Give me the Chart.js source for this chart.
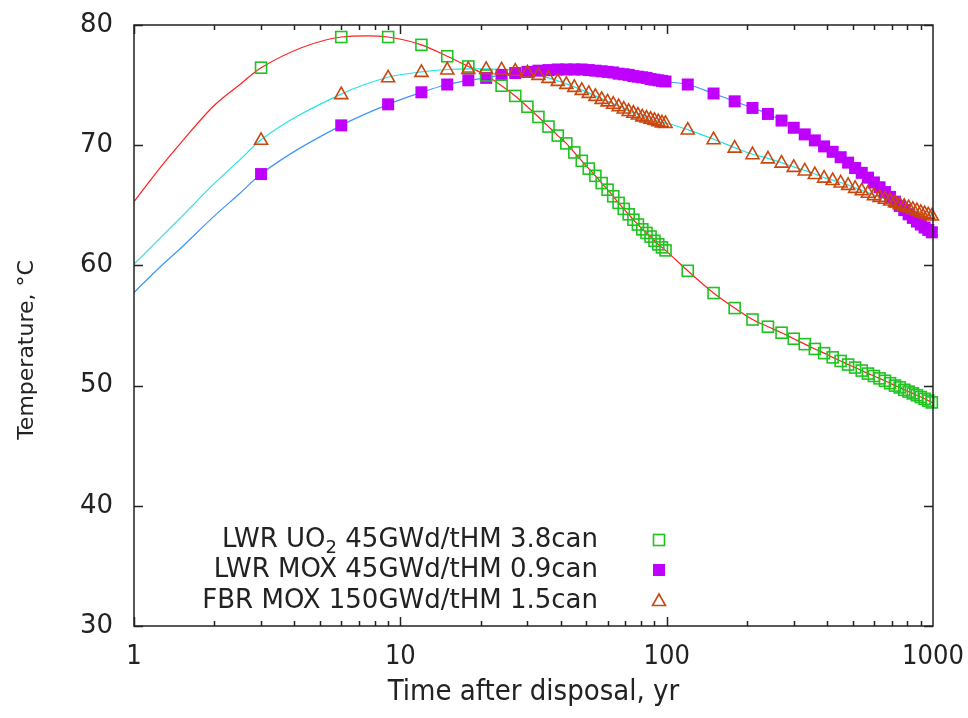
<!DOCTYPE html>
<html>
<head>
<meta charset="utf-8">
<title>Temperature after disposal</title>
<script src="https://cdn.jsdelivr.net/npm/chart.js@4/dist/chart.umd.min.js"></script>
<style>
  body { margin: 0; background: #fff; }
  #wrap { width: 968px; height: 718px; }
</style>
</head>
<body>
<div id="wrap"><canvas id="tempChart" width="968" height="718"></canvas></div>
<script>
// Zeitpunkte der Messpunkte (Jahre nach Einlagerung)
const yearsEarly = [3, 6, 9, 12, 15, 18, 21, 24, 27, 30, 33, 36, 39, 42, 45, 48, 51, 54, 57, 60,
  63, 66, 69, 72, 75, 78, 81, 84, 87, 90, 93, 96, 99];
const yearsLate = [120, 150, 180, 210, 240, 270, 300, 330, 360, 390, 420, 450, 480, 510, 540,
  570, 600, 630, 660, 690, 720, 750, 780, 810, 840, 870, 900, 930, 960, 990];

// LWR UO2 45GWd/tHM 3.8can
const uo2Early = [76.45, 79.0, 79.0, 78.35, 77.4, 76.55, 75.8, 74.95, 74.1, 73.2, 72.35, 71.55,
  70.8, 70.15, 69.4, 68.7, 68.05, 67.45, 66.85, 66.3, 65.75, 65.2, 64.7, 64.25, 63.8, 63.4, 63.0,
  62.7, 62.4, 62.05, 61.75, 61.5, 61.25];
const uo2Late = [59.55, 57.7, 56.45, 55.5, 54.9, 54.4, 53.9, 53.45, 53.05, 52.7, 52.35, 52.05,
  51.75, 51.5, 51.25, 51.0, 50.8, 50.6, 50.4, 50.2, 50.0, 49.85, 49.65, 49.5, 49.35, 49.2, 49.05,
  48.9, 48.75, 48.6];

// LWR MOX 45GWd/tHM 0.9can
const moxEarly = [67.6, 71.65, 73.4, 74.4, 75.05, 75.4, 75.6, 75.85, 76.0, 76.1, 76.2, 76.25,
  76.3, 76.3, 76.3, 76.3, 76.25, 76.2, 76.15, 76.1, 76.05, 75.95, 75.9, 75.85, 75.75, 75.7, 75.65,
  75.6, 75.5, 75.45, 75.4, 75.35, 75.3];
const moxLate = [75.05, 74.3, 73.65, 73.1, 72.6, 72.05, 71.45, 70.9, 70.4, 69.9, 69.45, 69.0,
  68.55, 68.1, 67.7, 67.3, 66.9, 66.5, 66.1, 65.7, 65.3, 64.95, 64.6, 64.25, 63.95, 63.65, 63.4,
  63.15, 62.95, 62.75];

// FBR MOX 150GWd/tHM 1.5can
const fbrEarly = [70.45, 74.25, 75.65, 76.1, 76.3, 76.35, 76.35, 76.3, 76.2, 76.05, 75.85, 75.6,
  75.35, 75.1, 74.85, 74.6, 74.35, 74.1, 73.85, 73.65, 73.45, 73.25, 73.05, 72.85, 72.7, 72.55,
  72.4, 72.3, 72.2, 72.1, 72.0, 71.9, 71.85];
const fbrLate = [71.3, 70.5, 69.8, 69.25, 68.9, 68.55, 68.2, 67.9, 67.6, 67.3, 67.1, 66.9, 66.7,
  66.45, 66.25, 66.05, 65.85, 65.7, 65.55, 65.4, 65.25, 65.1, 64.95, 64.85, 64.7, 64.6, 64.45,
  64.35, 64.25, 64.15];

// Kurvenverlauf vor dem ersten Messpunkt und am Rand (nur Linien)
const lineLeadYears = [1, 1.25, 1.5, 2, 2.5];
const uo2Lead = [65.3, 68.1, 70.2, 73.3, 75.05];
const moxLead = [57.75, 59.85, 61.45, 64.1, 66.0];
const fbrLead = [60.1, 62.25, 64.0, 66.8, 68.8];
const uo2PeakYear = [7.5];
const uo2Peak = [79.1];
const lineEndYear = [1000];
const uo2End = [48.55];
const moxEnd = [62.7];
const fbrEnd = [64.1];

// Achsen
const xTickValues = [1, 10, 100, 1000];
const yTickValues = [30, 40, 50, 60, 70, 80];
const legendParts = [
  ["LWR UO", "2", " 45GWd/tHM 3.8can"],
  ["LWR MOX 45GWd/tHM 0.9can", "", ""],
  ["FBR MOX 150GWd/tHM 1.5can", "", ""]
];

const markerYears = yearsEarly.concat(yearsLate);

function toPoints(xs, ys) {
  return xs.map((x, i) => ({ x: x, y: ys[i] }));
}

// Linie aus mehreren Stücken zusammensetzen, nach x sortiert
function linePoints(pieces) {
  let pts = [];
  pieces.forEach(p => { pts = pts.concat(toPoints(p[0], p[1])); });
  return pts.sort((a, b) => a.x - b.x);
}

const uo2Markers = toPoints(markerYears, uo2Early.concat(uo2Late));
const moxMarkers = toPoints(markerYears, moxEarly.concat(moxLate));
const fbrMarkers = toPoints(markerYears, fbrEarly.concat(fbrLate));

const uo2Line = linePoints([[lineLeadYears, uo2Lead], [uo2PeakYear, uo2Peak],
  [markerYears, uo2Early.concat(uo2Late)], [lineEndYear, uo2End]]);
const moxLine = linePoints([[lineLeadYears, moxLead], [markerYears, moxEarly.concat(moxLate)],
  [lineEndYear, moxEnd]]);
const fbrLine = linePoints([[lineLeadYears, fbrLead], [markerYears, fbrEarly.concat(fbrLate)],
  [lineEndYear, fbrEnd]]);

const GREEN = "#1ec31e";
const PURPLE = "#c000ff";
const ORANGE = "#c9470f";
const RED = "#ff2020";
const CYAN = "#22e5e5";
const BLUE = "#3f95ff";
const TEXT = "#222";

const BASE_FONT = "'DejaVu Sans', sans-serif";
const COND_FONT = "'DejaVu Sans Condensed', 'Liberation Sans Narrow', 'DejaVu Sans', sans-serif";

function drawMarker(ctx, style, x, y) {
  ctx.save();
  if (style === "openSquare") {
    ctx.strokeStyle = GREEN;
    ctx.lineWidth = 1.6;
    ctx.strokeRect(x - 5.5, y - 5.5, 11, 11);
  } else if (style === "filledSquare") {
    ctx.fillStyle = PURPLE;
    ctx.fillRect(x - 6, y - 6, 12, 12);
  } else {
    ctx.strokeStyle = ORANGE;
    ctx.lineWidth = 1.6;
    ctx.beginPath();
    ctx.moveTo(x, y - 7);
    ctx.lineTo(x + 6.5, y + 4.5);
    ctx.lineTo(x - 6.5, y + 4.5);
    ctx.closePath();
    ctx.stroke();
  }
  ctx.restore();
}

// Rahmen, nach innen zeigende Ticks und Legende
const framePlugin = {
  id: "frame",
  afterDraw(chart) {
    const ctx = chart.ctx;
    const a = chart.chartArea;
    const xs = chart.scales.x;
    const ys = chart.scales.y;
    ctx.save();
    ctx.strokeStyle = "#222";
    ctx.lineWidth = 1.5;
    ctx.strokeRect(a.left, a.top, a.right - a.left, a.bottom - a.top);

    ctx.beginPath();
    yTickValues.forEach(v => {
      const py = Math.round(ys.getPixelForValue(v)) + 0.5;
      ctx.moveTo(a.left, py); ctx.lineTo(a.left + 9, py);
      ctx.moveTo(a.right, py); ctx.lineTo(a.right - 9, py);
    });
    for (let dec = 1; dec < 1000; dec *= 10) {
      for (let m = 1; m < 10; m++) {
        const v = dec * m;
        const len = m === 1 ? 9 : 5;
        const px = Math.round(xs.getPixelForValue(v)) + 0.5;
        ctx.moveTo(px, a.bottom); ctx.lineTo(px, a.bottom - len);
        ctx.moveTo(px, a.top); ctx.lineTo(px, a.top + len);
      }
    }
    ctx.stroke();

    // Legende
    const styles = ["openSquare", "filledSquare", "triangle"];
    const textRight = a.left + 464;
    const markX = a.left + 525;
    const rowY = [a.top + 515, a.top + 545, a.top + 576];
    const big = "26px " + BASE_FONT;
    const small = "18px " + BASE_FONT;
    ctx.fillStyle = TEXT;
    ctx.textBaseline = "middle";
    ctx.textAlign = "left";
    legendParts.forEach((parts, i) => {
      ctx.font = big;
      const w0 = ctx.measureText(parts[0]).width;
      const w2 = ctx.measureText(parts[2]).width;
      ctx.font = small;
      const w1 = ctx.measureText(parts[1]).width;
      let x = textRight - (w0 + w1 + w2);
      ctx.font = big;
      ctx.fillText(parts[0], x, rowY[i]);
      x += w0;
      if (parts[1]) {
        ctx.font = small;
        ctx.fillText(parts[1], x, rowY[i] + 8);
        x += w1;
      }
      ctx.font = big;
      if (parts[2]) ctx.fillText(parts[2], x, rowY[i]);
      drawMarker(ctx, styles[i], markX, rowY[i]);
    });
    ctx.restore();
  }
};

const ctx = document.getElementById("tempChart").getContext("2d");
new Chart(ctx, {
  type: "scatter",
  data: {
    datasets: [
      { label: "FBR line", data: fbrLine, showLine: true, borderColor: CYAN, borderWidth: 1.2,
        pointRadius: 0, cubicInterpolationMode: "monotone", order: 0 },
      { label: "FBR MOX 150GWd/tHM 1.5can", data: fbrMarkers, showLine: false,
        pointStyle: "triangle", pointRadius: 0, order: 1 },
      { label: "UO2 line", data: uo2Line, showLine: true, borderColor: RED, borderWidth: 1.2,
        pointRadius: 0, cubicInterpolationMode: "monotone", order: 2 },
      { label: "LWR UO2 45GWd/tHM 3.8can", data: uo2Markers, showLine: false,
        pointStyle: "openSquare", pointRadius: 0, order: 3 },
      { label: "LWR MOX 45GWd/tHM 0.9can", data: moxMarkers, showLine: false,
        pointStyle: "filledSquare", pointRadius: 0, order: 4 },
      { label: "MOX line", data: moxLine, showLine: true, borderColor: BLUE, borderWidth: 1.2,
        pointRadius: 0, cubicInterpolationMode: "monotone", order: 5 }
    ]
  },
  options: {
    responsive: false,
    animation: false,
    layout: { padding: { left: 0, top: 25, right: 35, bottom: 0 } },
    plugins: { legend: { display: false }, tooltip: { enabled: false } },
    scales: {
      x: {
        type: "logarithmic",
        min: 1,
        max: 1000,
        grid: { display: false, drawTicks: false },
        border: { display: false },
        afterBuildTicks: axis => { axis.ticks = xTickValues.map(v => ({ value: v })); },
        afterFit: axis => { axis.height = 92; axis.paddingLeft = 0; axis.paddingRight = 0; },
        ticks: {
          maxRotation: 0,
          autoSkip: false,
          padding: 15,
          color: TEXT,
          font: { family: COND_FONT, size: 27 },
          callback: v => String(v)
        },
        title: {
          display: true,
          text: "Time after disposal, yr",
          color: TEXT,
          font: { family: COND_FONT, size: 29 },
          padding: { top: 0, bottom: 8 }
        }
      },
      y: {
        min: 30,
        max: 80,
        grid: { display: false, drawTicks: false },
        border: { display: false },
        afterBuildTicks: axis => { axis.ticks = yTickValues.map(v => ({ value: v })); },
        afterFit: axis => { axis.width = 134; axis.paddingTop = 0; axis.paddingBottom = 0; },
        ticks: {
          padding: 21,
          color: TEXT,
          font: { family: BASE_FONT, size: 26 }
        },
        title: {
          display: true,
          // nachgestellte Leerzeichen schieben den Titel etwas nach unten, wie im Original
          text: "Temperature, °C\u00a0\u00a0\u00a0\u00a0\u00a0\u00a0\u00a0",
          color: TEXT,
          font: { family: BASE_FONT, size: 22 },
          padding: { top: 14, bottom: 0 }
        }
      }
    }
  },
  plugins: [framePlugin, {
    // eigene Marker über die Skalenpositionen der Punkte zeichnen
    id: "markers",
    afterDatasetsDraw(chart) {
      const order = [4, 3, 1];
      order.forEach(di => {
        const ds = chart.data.datasets[di];
        const meta = chart.getDatasetMeta(di);
        meta.data.forEach(el => drawMarker(chart.ctx, ds.pointStyle, el.x, el.y));
      });
    }
  }]
});
</script>
</body>
</html>
